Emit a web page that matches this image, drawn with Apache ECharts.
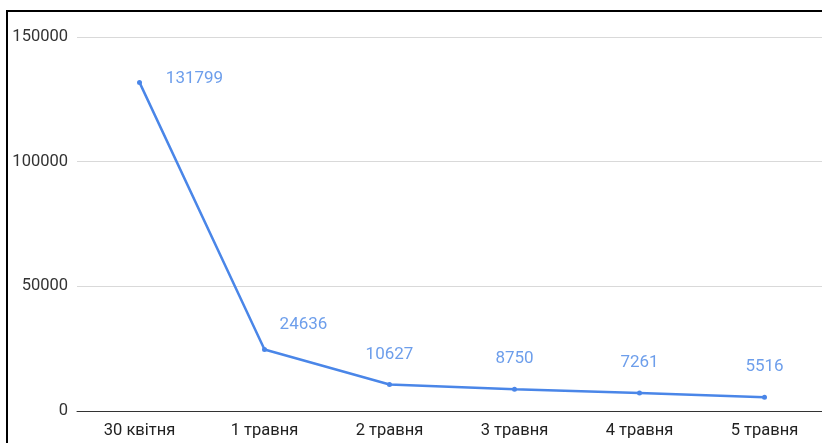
<!DOCTYPE html>
<html>
<head>
<meta charset="utf-8">
<script src="https://cdn.jsdelivr.net/npm/echarts@6/dist/echarts.min.js"></script>
<style>
  html, body { margin: 0; padding: 0; background: #fff; overflow: hidden; }
  #chart { width: 830px; height: 443px; }
</style>
</head>
<body>
<div id="chart"></div>
<script>
// Daily counts, 30 April – 5 May
const categories = ['30 квітня', '1 травня', '2 травня', '3 травня', '4 травня', '5 травня'];
const values = [131799, 24636, 10627, 8750, 7261, 5516];
const yTicks = [0, 50000, 100000, 150000];

// Label nudges so the upper labels clear the steep segment
const labelOffsets = [[55, 26], [39, 5], [0, 0], [0, 0], [0, 0], [0, 0]];

const chart = echarts.init(document.getElementById('chart'));

chart.setOption({
  animation: false,
  textStyle: { fontFamily: 'Roboto, Arial, sans-serif' },
  graphic: [{
    type: 'rect',
    shape: { x: 7, y: 11, width: 900, height: 900 },
    style: { fill: 'none', stroke: '#000', lineWidth: 2 },
    silent: true,
    z: 100
  }],
  grid: { left: 77, width: 750, top: 37, bottom: 32, containLabel: false },
  xAxis: {
    type: 'category',
    data: categories,
    boundaryGap: true,
    axisLine: { lineStyle: { color: '#333', width: 1 } },
    axisTick: { show: false },
    axisLabel: { color: '#222', fontSize: 16.5, margin: 11 }
  },
  yAxis: {
    type: 'value',
    min: yTicks[0],
    max: yTicks[yTicks.length - 1],
    interval: yTicks[1] - yTicks[0],
    axisLine: { show: false },
    axisTick: { show: false },
    splitLine: { lineStyle: { color: '#d9d9d9', width: 1 } },
    axisLabel: { color: '#333', fontSize: 16.5, margin: 9, formatter: v => String(v) }
  },
  series: [{
    type: 'line',
    data: values.map((v, i) => ({
      value: v,
      label: { offset: labelOffsets[i] }
    })),
    color: '#4a86e8',
    lineStyle: { width: 2.5, color: '#4a86e8' },
    symbol: 'circle',
    symbolSize: 5,
    itemStyle: { color: '#4a86e8' },
    label: {
      show: true,
      position: 'top',
      distance: 19,
      color: '#6d9eeb',
      fontSize: 17
    }
  }]
});
</script>
</body>
</html>
